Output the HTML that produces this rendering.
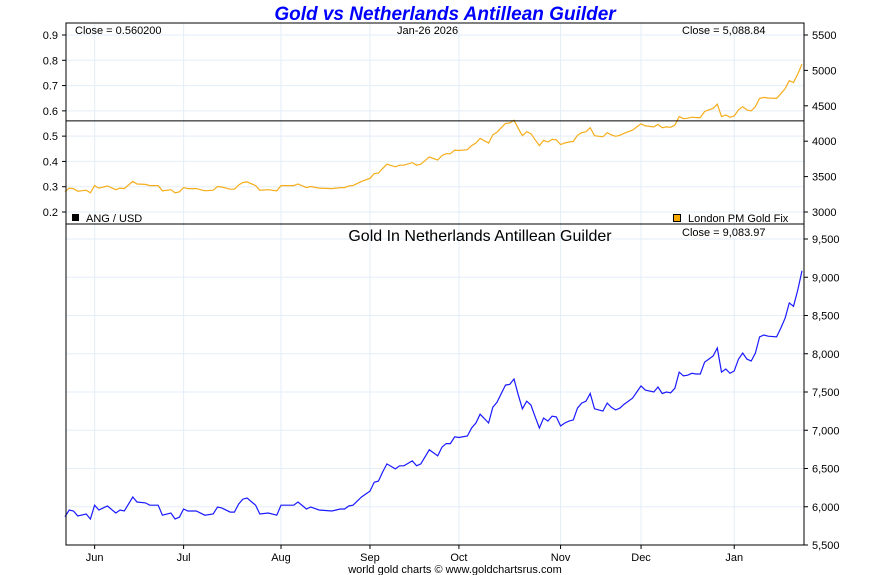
<!DOCTYPE html>
<html><head><meta charset="utf-8"><style>
body{margin:0;background:#fff;}
svg{display:block;font-family:"Liberation Sans",sans-serif;}
</style></head><body>
<svg id="chart" width="890" height="575" viewBox="0 0 890 575" xmlns="http://www.w3.org/2000/svg">
<rect width="890" height="575" fill="#fff"/>
<text x="445" y="20" text-anchor="middle" font-size="19" font-weight="bold" font-style="italic" fill="#0000ff">Gold vs Netherlands Antillean Guilder</text>
<g id="grid"></g>
<g id="series"></g>
<g id="axes"></g>
<text x="75" y="34" font-size="11">Close = 0.560200</text>
<text x="397" y="34" font-size="11">Jan-26  2026</text>
<text x="682" y="34" font-size="11">Close = 5,088.84</text>
<rect x="72" y="214" width="7" height="7" fill="#000"/>
<text x="86" y="222" font-size="11">ANG / USD</text>
<rect x="673.5" y="214.5" width="7" height="7" fill="#f5a800" stroke="#000" stroke-width="1"/>
<text x="688" y="222" font-size="11">London PM Gold Fix</text>
<text x="480" y="241" text-anchor="middle" font-size="16">Gold In Netherlands Antillean Guilder</text>
<text x="682" y="236" font-size="11">Close = 9,083.97</text>
<text x="455" y="573" text-anchor="middle" font-size="11">world gold charts © www.goldchartsrus.com</text>
</svg>
<script>
const dayIdx=[0,1,2,3,5,6,7,8,10,12,13,14,16,17,19,20,22,23,25,26,27,28,29,31,33,35,36,37,39,40,41,42,43,45,46,48,50,51,52,54,55,57,58,60,63,65,66,67,68,70,72,73,74,75,76,78,79,80,82,83,84,86,88,89,90,91,92,93,95,96,97,98,100,101,102,103,104,105,106,107,108,109,110,111,112,113,114,115,116,117,118,119,120,121,122,123,124,125,127,128,129,130,131,132,133,134,135,136,137,139,140,141,142,143,144,145,146,147,148,149,150,151,152,153,154,155,156,157,158,159,160,161,162,163,164,165,166,168,169,170,171,172,173,174];
const goldAng=[5870,5958,5945,5880,5905,5840,6020,5958,6010,5918,5958,5945,6128,6062,6050,6020,6020,5890,5918,5840,5865,5970,5945,5945,5890,5905,5997,5985,5930,5930,6036,6100,6115,6020,5905,5918,5890,6020,6020,6020,6062,5970,5997,5958,5945,5970,5970,6010,6020,6128,6205,6320,6335,6455,6560,6495,6535,6535,6600,6535,6560,6745,6665,6780,6825,6825,6915,6905,6925,7030,7095,7210,7095,7300,7365,7480,7590,7600,7670,7465,7280,7380,7330,7175,7030,7160,7120,7185,7175,7055,7095,7120,7135,7290,7355,7380,7480,7280,7250,7355,7300,7265,7290,7340,7380,7420,7500,7580,7525,7500,7565,7480,7500,7490,7550,7760,7710,7720,7745,7735,7735,7890,7930,7970,8075,7760,7800,7745,7775,7930,8010,7930,7905,8010,8220,8245,8230,8220,8335,8465,8665,8620,8835,9083.97];
const angUsd=0.5602;
const monthLabels=["Jun","Jul","Aug","Sep","Oct","Nov","Dec","Jan"];
const monthIdx=[7,28,51,72,93,117,136,158];
const angTicks=[0.2,0.3,0.4,0.5,0.6,0.7,0.8,0.9];
const usdTicks=[3000,3500,4000,4500,5000,5500];
const angTickLabels=["9,500","9,000","8,500","8,000","7,500","7,000","6,500","6,000","5,500"];
const angTickVals=[9500,9000,8500,8000,7500,7000,6500,6000,5500];

const NS="http://www.w3.org/2000/svg";
const L=66,R=804;
const xS=i=>65+i*(802-65)/174;
const yRate=v=>35+(0.9-v)/0.7*177;
const yUsd=v=>35+(5500-v)/2500*177;
const yAng=v=>239+(9500-v)/4000*306;
function mk(tag,attrs,parent,txt){const e=document.createElementNS(NS,tag);for(const k in attrs)e.setAttribute(k,attrs[k]);if(txt!==undefined)e.textContent=txt;document.getElementById(parent).appendChild(e);return e;}
const GC="#e3eef8";
angTicks.forEach(v=>{const e=mk('line',{x1:L,x2:R,y1:yRate(v),y2:yRate(v),stroke:GC},'grid');

});
angTickVals.forEach(v=>{const e=mk('line',{x1:L,x2:R,y1:yAng(v),y2:yAng(v),stroke:GC},'grid');

});
monthIdx.forEach(i=>{const x=xS(i);const e=mk('line',{x1:x,x2:x,y1:23,y2:545,stroke:GC},'grid');

});
const ptsTop=dayIdx.map((d,k)=>xS(d).toFixed(1)+','+yUsd(goldAng[k]*angUsd).toFixed(1)).join(' ');
const topLine=mk('polyline',{points:ptsTop,fill:'none',stroke:'#f5ad1b','stroke-width':1.2},'series');


const ptsBot=dayIdx.map((d,k)=>xS(d).toFixed(1)+','+yAng(goldAng[k]).toFixed(1)).join(' ');
const botLine=mk('polyline',{points:ptsBot,fill:'none',stroke:'#1a1aff','stroke-width':1.2},'series');


const rateLine=mk('line',{x1:L,x2:R,y1:yRate(angUsd),y2:yRate(angUsd),stroke:'#000','stroke-width':1},'series');


const f1=mk('rect',{x:L,y:23,width:R-L,height:201,fill:'none',stroke:'#000'},'axes');


const f2=mk('path',{d:`M${L},224 V545 H${R} V224`,fill:'none',stroke:'#000'},'axes');


angTicks.forEach(v=>{const y=yRate(v);mk('line',{x1:L-4,x2:L,y1:y,y2:y,stroke:'#000'},'axes');
const t=mk('text',{x:L-8,y:y+4,'text-anchor':'end','font-size':11},'axes',v.toFixed(1));

});
usdTicks.forEach(v=>{const y=yUsd(v);mk('line',{x1:R,x2:R+4,y1:y,y2:y,stroke:'#000'},'axes');
const t=mk('text',{x:R+8,y:y+4,'font-size':11},'axes',String(v));

});
angTickVals.forEach((v,k)=>{const y=yAng(v);mk('line',{x1:R,x2:R+4,y1:y,y2:y,stroke:'#000'},'axes');
const t=mk('text',{x:R+8,y:y+4,'font-size':11},'axes',angTickLabels[k]);

});
monthIdx.forEach((i,k)=>{const x=xS(i);mk('line',{x1:x,x2:x,y1:545,y2:549,stroke:'#000'},'axes');
const t=mk('text',{x:x,y:561,'text-anchor':'middle','font-size':11},'axes',monthLabels[k]);

});
</script>
</body></html>
